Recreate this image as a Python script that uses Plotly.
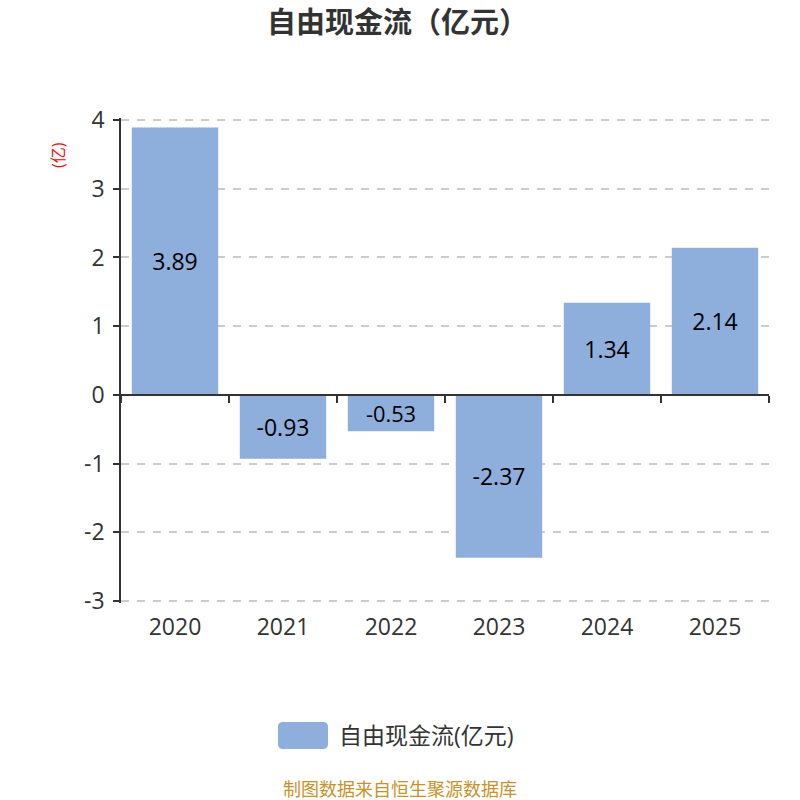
import plotly.graph_objects as go

years = ["2020", "2021", "2022", "2023", "2024", "2025"]
fcf = [3.89, -0.93, -0.53, -2.37, 1.34, 2.14]
series_name = "自由现金流(亿元)"
title_text = "自由现金流（亿元）"
unit_text = "(亿)"
source_text = "制图数据来自恒生聚源数据库"
y_ticks = [4, 3, 2, 1, 0, -1, -2, -3]

bar_color = "#8EAEDB"
axis_color = "#333333"
font_family = "Open Sans, Noto Sans CJK SC, sans-serif"

# plot frame in pixels (4 sits at y=120, -3 at y=601)
Y_PAD = 0.03
T, B = 118, 197
PLOT_H = 800 - T - B
PLOT_L, PLOT_W = 121, 648


def py(pix):
    """paper y fraction for a pixel row"""
    return (800 - B - pix) / PLOT_H


def px(pix):
    """paper x fraction for a pixel column"""
    return (pix - PLOT_L) / PLOT_W


fig = go.Figure()
fig.add_trace(go.Bar(
    x=years,
    y=fcf,
    name=series_name,
    marker=dict(color=bar_color, line=dict(width=0)),
    width=0.8,
    text=[f"{v:.2f}" for v in fcf],
    textposition="inside",
    insidetextanchor="middle",
    textfont=dict(size=23, color="#000000", family=font_family),
    showlegend=False,
    cliponaxis=False,
))

# invisible trace on the secondary x-axis that carries the zero-line ticks
fig.add_trace(go.Scatter(x=[-0.5, 5.5], y=[0, 0], xaxis="x2", mode="lines",
                         line=dict(width=0), hoverinfo="skip", showlegend=False))

fig.update_layout(
    width=800, height=800,
    margin=dict(l=PLOT_L, r=800 - PLOT_L - PLOT_W, t=T, b=B),
    paper_bgcolor="white", plot_bgcolor="white",
    font=dict(family=font_family, color=axis_color),
    title=dict(text=f"<b>{title_text}</b>", x=0.497, xanchor="center",
               y=1 - 23 / 800, yanchor="middle",
               font=dict(size=29, color="#333333",
                         family="Noto Sans CJK SC, sans-serif")),
    xaxis=dict(
        type="category", range=[-0.5, 5.5],
        showline=False, showgrid=False, zeroline=False, ticks="",
        ticklabelstandoff=8,
        tickfont=dict(size=23, color=axis_color),
    ),
    xaxis2=dict(
        overlaying="x", anchor="free", position=py(394.9),
        range=[-0.5, 5.5], showline=True, linecolor=axis_color, linewidth=1.5,
        ticks="outside", ticklen=7, tickcolor=axis_color, tickwidth=1.5,
        tickvals=[i - 0.5 for i in range(len(years) + 1)],
        showticklabels=False, showgrid=False, zeroline=False,
    ),
    yaxis=dict(
        range=[-3 - Y_PAD, 4 + Y_PAD], tickvals=y_ticks,
        ticktext=[str(t) for t in y_ticks],
        showline=True, linecolor=axis_color, linewidth=1.5,
        ticks="outside", ticklen=6, tickcolor=axis_color, tickwidth=1.5,
        ticklabelstandoff=4,
        tickfont=dict(size=23, color=axis_color),
        showgrid=True, gridcolor="#CCCCCC", griddash="8px,8px", gridwidth=1.5,
        zeroline=False,
    ),
    bargap=0.2,
    annotations=[
        dict(text=unit_text, xref="paper", yref="paper",
             x=px(58), y=py(155), xanchor="center", yanchor="middle",
             textangle=-90, showarrow=False,
             font=dict(size=16, color="#FF0000")),
        dict(text=series_name, xref="paper", yref="paper",
             x=px(337), y=py(735), xanchor="left",
             yanchor="middle", showarrow=False,
             font=dict(size=23, color=axis_color)),
        dict(text=source_text, xref="paper", yref="paper",
             x=px(400), y=py(789), xanchor="center",
             yanchor="middle", showarrow=False,
             font=dict(size=18, color="#C8922A")),
    ],
    shapes=[
        dict(type="path", xref="paper", yref="paper",
             path=("M {a},{b} L {c},{b} Q {d},{b} {d},{e} L {d},{f} "
                   "Q {d},{g} {c},{g} L {a},{g} Q {h},{g} {h},{f} "
                   "L {h},{e} Q {h},{b} {a},{b} Z").format(
                 a=px(283), c=px(323), d=px(328), h=px(278),
                 b=py(722), e=py(727), f=py(744), g=py(749)),
             fillcolor=bar_color, line=dict(width=0)),
    ],
)

fig.write_html("out.html")
